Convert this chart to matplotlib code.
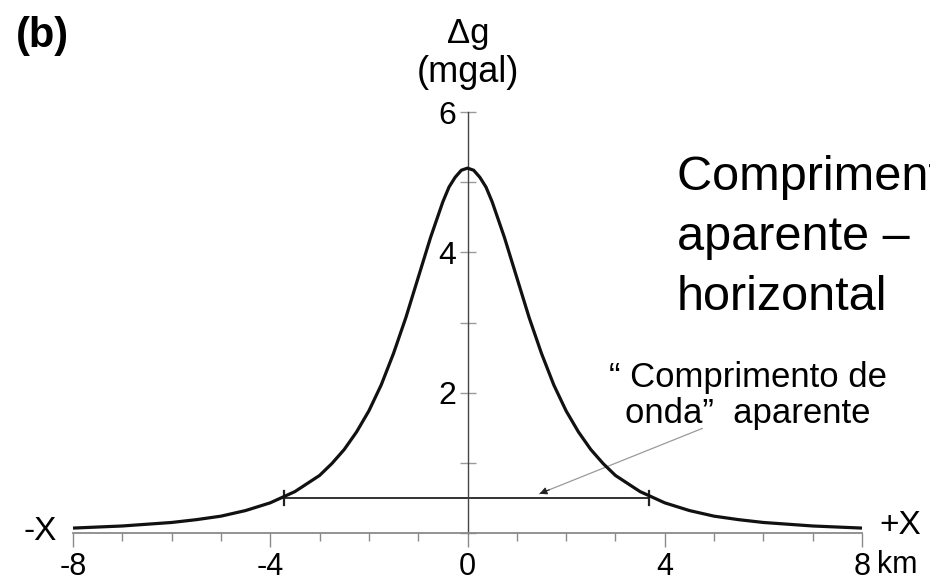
import matplotlib
matplotlib.use("Agg")
import matplotlib.pyplot as plt
from matplotlib.ticker import MultipleLocator

plt.rcParams['font.family'] = ['Liberation Sans', 'DejaVu Sans']

# gravity anomaly profile (km, mgal)
x_km = [-8, -7, -6, -5.5, -5, -4.5, -4, -3.5, -3, -2.75, -2.5, -2.25, -2,
        -1.75, -1.5, -1.25, -1, -0.75, -0.5, -0.375, -0.25, -0.125, 0,
        0.125, 0.25, 0.375, 0.5, 0.75, 1, 1.25, 1.5, 1.75, 2, 2.25, 2.5, 2.75, 3,
        3.5, 4, 4.5, 5, 5.5, 6, 7, 8]
dg = [0.07, 0.10, 0.15, 0.19, 0.24, 0.32, 0.43, 0.59, 0.82, 0.99, 1.19, 1.44, 1.74,
      2.11, 2.56, 3.07, 3.64, 4.21, 4.72, 4.93, 5.07, 5.17, 5.20,
      5.17, 5.07, 4.93, 4.72, 4.21, 3.64, 3.07, 2.56, 2.11, 1.74, 1.44, 1.19, 0.99, 0.82,
      0.59, 0.43, 0.32, 0.24, 0.19, 0.15, 0.10, 0.07]

# apparent wavelength segment and the arrow pointing at it
wave_x = [-3.72, 3.68]
wave_level = 0.50
arrow_from = (4.76, 1.49)
arrow_to = (1.46, 0.56)

x_major = [-8, -4, 0, 4, 8]
x_labels = ['-8', '-4', '0', '4', '8']
y_major = [2, 4, 6]
y_labels = ['2', '4', '6']

W, H = 930, 583
fig = plt.figure(figsize=(W / 100, H / 100), dpi=100)
ax = fig.add_axes([73 / W, 50 / H, 789 / W, 421 / H])
ax.set_xlim(-8, 8)
ax.set_ylim(0, 6)

ax.plot(x_km, dg, color='#111111', lw=2.3, clip_on=False, zorder=3,
        solid_capstyle='butt', solid_joinstyle='round')

# wavelength bar with end caps
ax.plot(wave_x, [wave_level, wave_level], color='#222222', lw=1.3, zorder=2)
for xe in wave_x:
    ax.plot([xe, xe], [wave_level - 0.1, wave_level + 0.1], color='#222222', lw=1.6, zorder=2)

# thin grey leader line, small black head at its end
ax.plot([arrow_from[0], arrow_to[0]], [arrow_from[1], arrow_to[1]], color='#9a9a9a', lw=0.9)
head_start = (arrow_to[0] + 0.2 * (arrow_from[0] - arrow_to[0]) / 3.3,
              arrow_to[1] + 0.2 * (arrow_from[1] - arrow_to[1]) / 3.3)
ax.annotate('', xy=arrow_to, xytext=head_start,
            arrowprops=dict(arrowstyle='-|>', color='#222222', lw=0.8,
                            mutation_scale=11, shrinkA=0, shrinkB=0))

# axes styling
for s in ['top', 'right']:
    ax.spines[s].set_visible(False)
ax.spines['left'].set_position(('data', 0))
ax.spines['left'].set_color('#444444')
ax.spines['left'].set_linewidth(1.0)
ax.spines['bottom'].set_color('#8a8a8a')
ax.spines['bottom'].set_linewidth(1.3)

ax.set_xticks(x_major)
ax.set_xticklabels(x_labels)
ax.xaxis.set_minor_locator(MultipleLocator(1))
ax.tick_params(axis='x', which='major', direction='out', length=10, width=1,
               color='#8a8a8a', labelsize=22, pad=4)
ax.tick_params(axis='x', which='minor', direction='out', length=6, width=1,
               color='#8a8a8a')

ax.set_yticks(y_major)
ax.set_yticklabels(y_labels)
ax.yaxis.set_minor_locator(MultipleLocator(1))
ax.tick_params(axis='y', which='both', direction='inout', length=12, width=1,
               color='#9a9a9a', labelsize=23, pad=2)


def ftext(px, py, s, **kw):
    fig.text(px / W, 1 - py / H, s, **kw)


ftext(42, 36, '(b)', fontsize=30, fontweight='bold', ha='center', va='center')
ftext(468, 33, 'Δg', fontsize=25, ha='center', va='center')
ftext(468, 73, '(mgal)', fontsize=26, ha='center', va='center')

ftext(677, 190, 'Comprimento de onda', fontsize=35, va='baseline')
ftext(677, 250, 'aparente –', fontsize=35, va='baseline')
ftext(677, 310, 'horizontal', fontsize=35, va='baseline')

ftext(748, 387, '“ Comprimento de', fontsize=25, ha='center', va='baseline')
ftext(748, 423, 'onda”  aparente', fontsize=25, ha='center', va='baseline')

ftext(40, 532, '-X', fontsize=24, ha='center', va='center')
ftext(900, 525, '+X', fontsize=24, ha='center', va='center')
ftext(877, 565, 'km', fontsize=22, ha='left', va='center')

fig.savefig('out.png', dpi=100)
